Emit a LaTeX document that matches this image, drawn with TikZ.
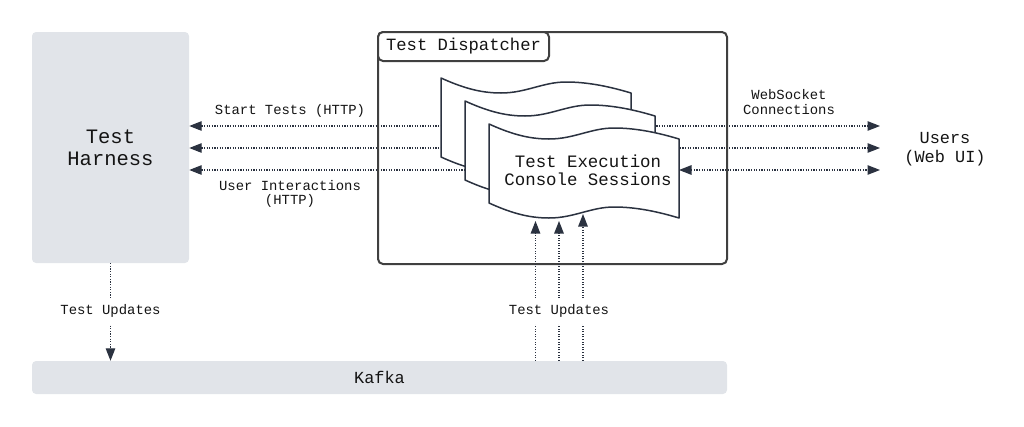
\documentclass[tikz,border=0pt]{standalone}
\usepackage{fontspec}
\setmonofont{Liberation Mono}
\usetikzlibrary{arrows.meta}
\definecolor{boxgray}{HTML}{E1E4E9}
\definecolor{ink}{HTML}{2B3240}
\definecolor{frame}{HTML}{404040}
\definecolor{txt}{HTML}{141414}
\begin{document}
\begin{tikzpicture}[x=1pt,y=-1pt,
  >={Triangle[length=12.5pt,width=9.5pt]},
  flow/.style={draw=ink, line width=1.2pt, dash pattern=on 1.1pt off 1.5pt},
  graybox/.style={fill=boxgray, draw=none, rounded corners=4pt, align=center, text=txt, inner sep=0pt},
  lbl/.style={font=\ttfamily\fontsize{13.9}{14.6}\selectfont, align=center, text=txt, inner sep=1pt},
  uplbl/.style={lbl, fill=white, inner xsep=2pt, inner ysep=7pt},
  framebox/.style={draw=frame, line width=2pt, rounded corners=5pt, inner sep=0pt},
  wavedoc/.pic={
    \draw[ink, line width=1.5pt, fill=white, line join=round]
      (0,0) .. controls (20,9) and (38,15) .. (60,15)
            .. controls (85,15) and (102,4) .. (125,4)
            .. controls (148,4) and (170,9) .. (190,15)
      -- (190,94)
            .. controls (170,88) and (148,83) .. (125,83)
            .. controls (102,83) and (85,94) .. (60,94)
            .. controls (38,94) and (20,88) .. (0,79)
      -- cycle;
  }]
\useasboundingbox (0,0) rectangle (1024,426);

% main nodes
\node[graybox, minimum width=157pt, minimum height=231pt,
      font=\ttfamily\fontsize{20.5}{22}\selectfont] (harness) at (110.5,147.5) {Test\\Harness};
\node[graybox, minimum width=695pt, minimum height=33pt,
      font=\ttfamily\fontsize{16.9}{18}\selectfont] (kafka) at (379.5,377.5) {Kafka};
\node[align=center, text=txt, font=\ttfamily\fontsize{16.9}{19}\selectfont] (users) at (945,149.5) {Users\\(Web UI)};

% horizontal connectors
\coordinate (r1) at (880,126);
\coordinate (r2) at (880,148);
\coordinate (r3) at (880,170);
\coordinate (f3) at (679,170);
\coordinate (f3l) at (500,170);
\draw[flow,<->] (harness.east |- r1) -- (r1);
\draw[flow,<->] (harness.east |- r2) -- (r2);
\draw[flow,<-] (harness.east |- r3) -- (f3l);

% stacked console sessions
\pic at (441,78) {wavedoc};
\pic at (465,101) {wavedoc};
\pic at (489,124) {wavedoc};
\node[align=center, text=txt, font=\ttfamily\fontsize{17.4}{18.3}\selectfont] (sessions) at (588,170) {Test Execution\\Console Sessions};

\draw[flow,<->] (f3) -- (r3);

% dispatcher frame
\node[framebox, minimum width=349pt, minimum height=232pt] (disp) at (552.5,148) {};
\node[framebox, minimum width=171pt, minimum height=29pt, fill=white,
      font=\ttfamily\fontsize{17.2}{18}\selectfont, text=txt] (disptitle) at (463.5,46.5) {Test Dispatcher};

% vertical connectors
\coordinate (u1) at (535.5,221);
\coordinate (u2) at (559,221);
\coordinate (u3) at (583,214);
\draw[flow,->] (harness.south) -- (harness.south |- kafka.north);
\draw[flow,->] (u1 |- kafka.north) -- (u1);
\draw[flow,->] (u2 |- kafka.north) -- (u2);
\draw[flow,->] (u3 |- kafka.north) -- (u3);

% labels
\node[lbl] (lstart) at (290,110.5) {Start Tests (HTTP)};
\node[lbl] (luser) at (290,194) {User Interactions\\(HTTP)};
\node[lbl] (lws) at (789,102) {WebSocket\\Connections};
\node[uplbl] (lup1) at (110.5,311) {Test Updates};
\node[uplbl] (lup2) at (559,311) {Test Updates};
\end{tikzpicture}
\end{document}
